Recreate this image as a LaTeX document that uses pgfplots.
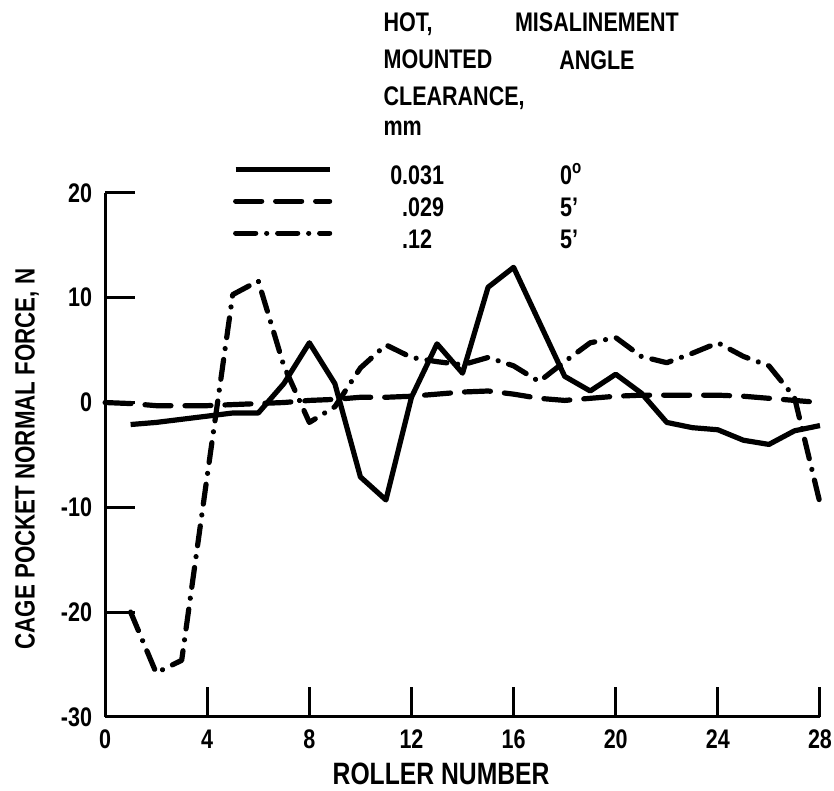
\documentclass[border=0pt]{standalone}
\usepackage{fontspec}
\setmainfont{Liberation Sans}[FakeStretch=0.8]
\usepackage{pgfplots}
\pgfplotsset{compat=1.18}

\begin{document}
\bfseries
\begin{tikzpicture}
\begin{axis}[
  scale only axis, width=357.5bp, height=262bp,
  xmin=0, xmax=28, ymin=-30, ymax=20,
  axis x line*=bottom, axis y line*=left,
  axis line style={line width=1.5bp, -},
  xtick={0,4,...,28}, xticklabels={0,4,8,12,16,20,24,28},
  ytick={-30,-20,...,20}, yticklabels={-30,-20,-10,0,10,20},
  tick align=inside, major tick length=15bp,
  tick style={line width=1.5bp, black},
  tick label style={inner sep=0pt, outer sep=0pt, font=\fontsize{13.5}{16}\selectfont},
  xticklabel style={yshift=-6.5bp},
  yticklabel style={xshift=-6.5bp},
  xlabel={ROLLER NUMBER}, ylabel={CAGE POCKET NORMAL FORCE, N},
  xlabel style={at={(axis description cs:0.47,0)}, anchor=north, yshift=-23bp, inner sep=0pt, font=\fontsize{15.5}{18}\selectfont},
  ylabel style={at={(axis description cs:-0.109,0.492)}, anchor=center, inner sep=0pt, font=\fontsize{14}{16}\selectfont},
  clip=false,
  legend cell align=left,
  legend style={at={(rel axis cs:0.179,1.055)}, anchor=north west, draw=none, fill=none,
    inner sep=0pt, outer sep=0pt, row sep=0pt, column sep=0pt,
    font=\fontsize{13.5}{16}\selectfont,
    nodes={inner sep=0pt, outer sep=0pt, text height=10bp, text depth=6bp}},
  legend image code/.code={\draw[#1] (0bp,5.5bp) -- (47bp,5.5bp);},
]
\addplot[black, line width=2.6bp, line join=round] coordinates {
(1,-2.1) (2,-1.9) (3,-1.6) (4,-1.3) (5,-1.0) (6,-1.0) (7,1.8) (8,5.7)
(9,1.8) (10,-7.1) (11,-9.3) (12,0.5) (13,5.6) (14,2.8) (15,11.0) (16,12.9)
(17,7.7) (18,2.5) (19,1.1) (20,2.7) (21,0.9) (22,-1.9) (23,-2.4) (24,-2.6)
(25,-3.6) (26,-4.0) (27,-2.7) (28,-2.2)};
\addlegendentry{\makebox[35bp][r]{0}\makebox[79bp][l]{.031}0\textsuperscript{o}}
\addplot[black, line width=2.6bp, line cap=round, line join=round, dash pattern=on 13bp off 7bp] coordinates {
(0,0.0) (1,-0.1) (2,-0.3) (3,-0.3) (4,-0.3) (5,-0.2) (6,-0.1) (7,0.0) (8,0.2)
(9,0.3) (10,0.5) (11,0.5) (12,0.6) (13,0.8) (14,1.0) (15,1.1) (16,0.8)
(17,0.4) (18,0.2) (19,0.4) (20,0.6) (21,0.7) (22,0.7) (23,0.7) (24,0.7)
(25,0.6) (26,0.4) (27,0.2) (28,0.0)};
\addlegendentry{\makebox[35bp][r]{}\makebox[79bp][l]{.029}5'}
\addplot[black, line width=2.6bp, line cap=round, line join=round, dash pattern=on 10bp off 5.5bp on 0.01bp off 5.5bp] coordinates {
(1,-20.0) (2,-25.8) (3,-24.6) (4,-7.0) (5,10.3) (6,11.6) (7,3.5) (8,-1.9)
(9,-0.4) (10,3.3) (11,5.5) (12,4.3) (13,3.9) (14,3.6) (15,4.3) (16,3.5)
(17,2.0) (18,3.9) (19,5.7) (20,6.2) (21,4.4) (22,3.8) (23,4.7) (24,5.7)
(25,4.4) (26,3.5) (27,0.5) (28,-9.6)};
\addlegendentry{\makebox[35bp][r]{}\makebox[79bp][l]{.12}5'}
\node[anchor=north west, align=left, inner sep=0pt, font=\fontsize{13.5}{18.5}\selectfont] at (rel axis cs:0.389,1.345) {HOT,\\MOUNTED\\CLEARANCE,\\[-3bp]mm};
\node[anchor=north, align=center, inner sep=0pt, font=\fontsize{13.5}{19}\selectfont] at (rel axis cs:0.688,1.345) {MISALINEMENT\\ANGLE};
\path (rel axis cs:-0.147,-0.141) rectangle (rel axis cs:1.0196,1.3683);
\end{axis}
\end{tikzpicture}
\end{document}
